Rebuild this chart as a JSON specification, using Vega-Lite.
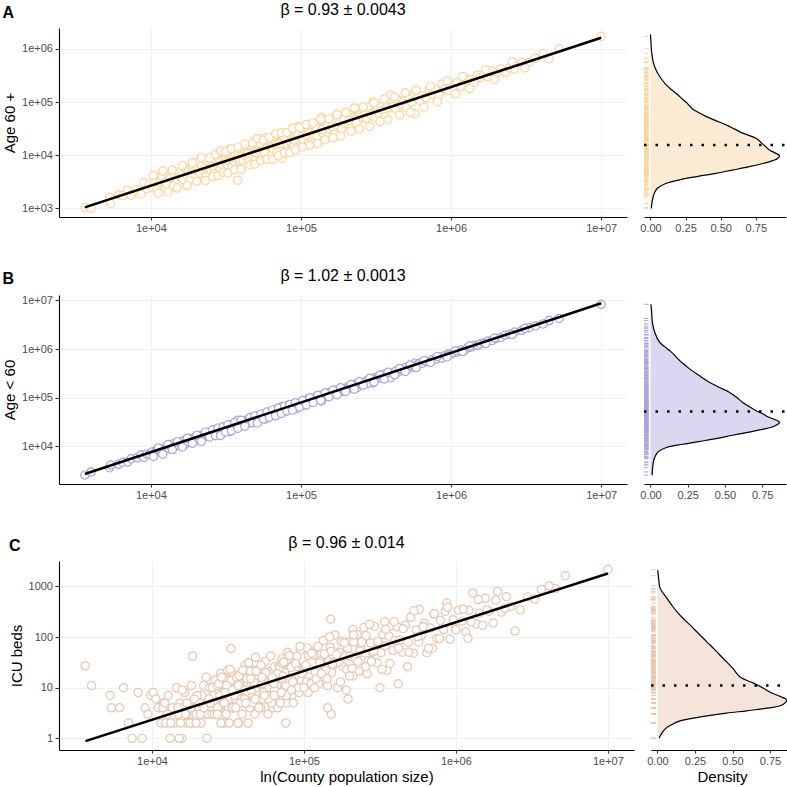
{
"$schema":"https://vega.github.io/schema/vega-lite/v6.json",
"padding":{"left":2,"top":2,"right":0,"bottom":0},
"config":{"font":"Liberation Sans","view":{"stroke":null},
"axis":{"domainColor":"#000","domainWidth":1.1,"tickColor":"#333","tickWidth":1.1,"tickSize":4,"labelColor":"#4D4D4D","labelFontSize":11,"labelFont":"Liberation Sans","titleFont":"Liberation Sans","titleFontSize":15,"titleFontWeight":"normal","titleColor":"#000","gridColor":"#EDEDED","gridWidth":0.8,"labelPadding":2.5,"titlePadding":4},
"axisX":{"titlePadding":3},
"title":{"fontSize":16,"fontWeight":"normal","font":"Liberation Sans","color":"#000","offset":10}},
"datasets":{
"ab":[
{"pop":3630,"old":1045,"young":2585},{"pop":4000,"old":1000,"young":3000},{"pop":5300,"old":1630,"young":3670},{"pop":5400,"old":1240,"young":4160},{"pop":6100,"old":1790,"young":4310},{"pop":6500,"old":1750,"young":4750},{"pop":7000,"old":2210,"young":4790},{"pop":7400,"old":1780,"young":5620},{"pop":8100,"old":2250,"young":5850},{"pop":8600,"old":1860,"young":6740},{"pop":9000,"old":3040,"young":5960},{"pop":9400,"old":2350,"young":7050},{"pop":9800,"old":2840,"young":6960},
{"pop":10200,"old":2450,"young":7750},{"pop":10600,"old":3160,"young":7440},{"pop":11000,"old":2270,"young":8730},{"pop":11500,"old":3040,"young":8460},{"pop":11900,"old":4080,"young":7820},{"pop":12300,"old":3070,"young":9230},{"pop":12800,"old":2860,"young":9940},{"pop":13200,"old":4080,"young":9120},{"pop":13600,"old":3710,"young":9890},{"pop":14100,"old":2650,"young":11450},{"pop":14500,"old":4150,"young":10350},{"pop":14900,"old":3560,"young":11340},{"pop":15300,"old":4830,"young":10470},{"pop":15700,"old":3970,"young":11730},
{"pop":16000,"old":4330,"young":11670},{"pop":16400,"old":3460,"young":12940},{"pop":16900,"old":5860,"young":11040},{"pop":17300,"old":4160,"young":13140},{"pop":17700,"old":5080,"young":12620},{"pop":18200,"old":3530,"young":14670},{"pop":18600,"old":4740,"young":13860},{"pop":19100,"old":5840,"young":13260},{"pop":19500,"old":4360,"young":15140},{"pop":20000,"old":5490,"young":14510},{"pop":20500,"old":5030,"young":15470},{"pop":21000,"old":7700,"young":13300},{"pop":21400,"old":4550,"young":16850},{"pop":21900,"old":6350,"young":15550},{"pop":22400,"old":5190,"young":17210},{"pop":22900,"old":5860,"young":17040},{"pop":23400,"old":4110,"young":19290},{"pop":23900,"old":7560,"young":16340},{"pop":24400,"old":5490,"young":18910},{"pop":24800,"old":6820,"young":17980},{"pop":25000,"old":5000,"young":20000},
{"pop":25500,"old":6360,"young":19140},{"pop":26000,"old":8420,"young":17580},{"pop":26600,"old":5700,"young":20900},{"pop":27200,"old":7560,"young":19640},{"pop":27700,"old":6530,"young":21170},{"pop":28300,"old":8410,"young":19890},{"pop":28900,"old":5570,"young":23330},{"pop":29400,"old":7620,"young":21780},{"pop":30000,"old":6660,"young":23340},{"pop":30600,"old":11290,"young":19310},{"pop":31200,"old":7510,"young":23690},{"pop":31800,"old":8960,"young":22840},{"pop":32300,"old":6570,"young":25730},{"pop":32900,"old":8690,"young":24210},{"pop":33500,"old":7600,"young":25900},{"pop":34100,"old":10380,"young":23720},{"pop":34700,"old":6240,"young":28460},{"pop":35300,"old":8750,"young":26550},{"pop":35900,"old":7660,"young":28240},{"pop":36500,"old":10420,"young":26080},{"pop":37100,"old":8620,"young":28480},{"pop":37800,"old":3380,"young":34420},{"pop":38300,"old":10170,"young":28130},{"pop":38900,"old":7970,"young":30930},{"pop":39400,"old":12820,"young":26580},{"pop":26300,"old":4450,"young":21850},{"pop":33200,"old":12960,"young":20240},
{"pop":40200,"old":9690,"young":30510},{"pop":41000,"old":8090,"young":32910},{"pop":41900,"old":12280,"young":29620},{"pop":42700,"old":9740,"young":32960},{"pop":43600,"old":11500,"young":32100},{"pop":44500,"old":8100,"young":36400},{"pop":45300,"old":11270,"young":34030},{"pop":46200,"old":15460,"young":30740},{"pop":47100,"old":10120,"young":36980},{"pop":48000,"old":13170,"young":34830},{"pop":48900,"old":11420,"young":37480},{"pop":49800,"old":8300,"young":41500},{"pop":50700,"old":15430,"young":35270},{"pop":51700,"old":10680,"young":41020},{"pop":52600,"old":13230,"young":39370},{"pop":53600,"old":11810,"young":41790},{"pop":54600,"old":15510,"young":39090},{"pop":55600,"old":10520,"young":45080},{"pop":56600,"old":13500,"young":43100},{"pop":57700,"old":21110,"young":36590},{"pop":58700,"old":12310,"young":46390},{"pop":59800,"old":15910,"young":43890},{"pop":60900,"old":13750,"young":47150},{"pop":62000,"old":10780,"young":51220},{"pop":62800,"old":18280,"young":44520},{"pop":44000,"old":10750,"young":33250},{"pop":50200,"old":11220,"young":38980},{"pop":53100,"old":16740,"young":36360},{"pop":57200,"old":11340,"young":45860},
{"pop":64000,"old":14930,"young":49070},{"pop":65500,"old":13120,"young":52380},{"pop":67000,"old":18380,"young":48620},{"pop":68500,"old":15110,"young":53390},{"pop":70000,"old":21090,"young":48910},{"pop":71500,"old":13080,"young":58420},{"pop":73000,"old":18050,"young":54950},{"pop":74700,"old":8790,"young":65910},{"pop":76300,"old":19690,"young":56610},{"pop":78000,"old":16330,"young":61670},{"pop":79700,"old":26550,"young":53150},{"pop":81400,"old":15680,"young":65720},{"pop":83200,"old":19620,"young":63580},{"pop":85000,"old":18080,"young":66920},{"pop":86900,"old":23810,"young":63090},{"pop":88800,"old":15390,"young":73410},{"pop":90700,"old":22710,"young":67990},{"pop":92700,"old":20440,"young":72260},{"pop":94700,"old":34380,"young":60320},{"pop":96800,"old":19300,"young":77500},{"pop":98900,"old":23490,"young":75410},{"pop":66200,"old":22800,"young":43400},{"pop":69300,"old":11250,"young":58050},{"pop":72300,"old":16560,"young":55740},{"pop":77200,"old":22210,"young":54990},{"pop":82300,"old":11880,"young":70420},{"pop":89700,"old":19410,"young":70290},{"pop":95800,"old":24760,"young":71040},
{"pop":101000,"old":22800,"young":78200},{"pop":104000,"old":19200,"young":84800},{"pop":107000,"old":29310,"young":77690},{"pop":110000,"old":23160,"young":86840},{"pop":113000,"old":27780,"young":85220},{"pop":116000,"old":18620,"young":97380},{"pop":119000,"old":36010,"young":82990},{"pop":122000,"old":24380,"young":97620},{"pop":125000,"old":29070,"young":95930},{"pop":128000,"old":22630,"young":105370},{"pop":131000,"old":33510,"young":97490},{"pop":134000,"old":28890,"young":105110},{"pop":137000,"old":51150,"young":85850},{"pop":140000,"old":26390,"young":113610},{"pop":143000,"old":33790,"young":109210},{"pop":146000,"old":29670,"young":116330},{"pop":149000,"old":41620,"young":107380},{"pop":152000,"old":25160,"young":126840},{"pop":155000,"old":34390,"young":120610},{"pop":157000,"old":30360,"young":126640},{"pop":105500,"old":34390,"young":71110},{"pop":111500,"old":16470,"young":95030},{"pop":126500,"old":33580,"young":92920},{"pop":138500,"old":30390,"young":108110},{"pop":150500,"old":36750,"young":113750},
{"pop":161000,"old":35110,"young":125890},{"pop":166000,"old":30690,"young":135310},{"pop":171000,"old":44530,"young":126470},{"pop":176000,"old":35420,"young":140580},{"pop":181000,"old":42970,"young":138030},{"pop":186000,"old":30030,"young":155970},{"pop":191000,"old":55390,"young":135610},{"pop":196000,"old":39900,"young":156100},{"pop":201000,"old":44690,"young":156310},{"pop":207000,"old":38860,"young":168140},{"pop":213000,"old":56210,"young":156790},{"pop":218000,"old":37040,"young":180960},{"pop":224000,"old":50790,"young":173210},{"pop":230000,"old":47160,"young":182840},{"pop":236000,"old":74690,"young":161310},{"pop":242000,"old":46130,"young":195870},{"pop":248000,"old":59190,"young":188810},{"pop":168500,"old":24890,"young":143610},{"pop":193500,"old":48150,"young":145350},{"pop":210000,"old":44730,"young":165270},{"pop":233000,"old":40350,"young":192650},
{"pop":256000,"old":53970,"young":202030},{"pop":265000,"old":69660,"young":195340},{"pop":274000,"old":49410,"young":224590},{"pop":283000,"old":65120,"young":217880},{"pop":292000,"old":57280,"young":234720},{"pop":302000,"old":100600,"young":201400},{"pop":311000,"old":51650,"young":259350},{"pop":321000,"old":69800,"young":251200},{"pop":331000,"old":61550,"young":269450},{"pop":342000,"old":83170,"young":258830},{"pop":352000,"old":70200,"young":281800},{"pop":363000,"old":53600,"young":309400},{"pop":374000,"old":85700,"young":288300},{"pop":386000,"old":78000,"young":308000},{"pop":396000,"old":137130,"young":258870},{"pop":278000,"old":81540,"young":196460},
{"pop":410000,"old":83480,"young":326520},{"pop":428000,"old":73820,"young":354180},{"pop":446000,"old":108220,"young":337780},{"pop":465000,"old":89010,"young":375990},{"pop":484000,"old":104960,"young":379040},{"pop":504000,"old":78660,"young":425340},{"pop":525000,"old":119340,"young":405660},{"pop":547000,"old":99990,"young":447010},{"pop":570000,"old":146720,"young":423280},{"pop":575000,"old":60310,"young":514690},{"pop":595000,"old":119740,"young":475260},{"pop":620000,"old":107270,"young":512730},
{"pop":645000,"old":133350,"young":511650},{"pop":680000,"old":119950,"young":560050},{"pop":715000,"old":170190,"young":544810},{"pop":750000,"old":139900,"young":610100},{"pop":790000,"old":168070,"young":621930},{"pop":830000,"old":134280,"young":695720},{"pop":870000,"old":217040,"young":652960},{"pop":915000,"old":174950,"young":740050},{"pop":960000,"old":164590,"young":795410},{"pop":990000,"old":217450,"young":772550},
{"pop":1040000,"old":197910,"young":842090},{"pop":1100000,"old":233460,"young":866540},{"pop":1160000,"old":197000,"young":963000},{"pop":1220000,"old":286700,"young":933300},{"pop":1290000,"old":229540,"young":1060460},{"pop":1360000,"old":266470,"young":1093530},{"pop":1430000,"old":233810,"young":1196190},{"pop":1500000,"old":319470,"young":1180530},{"pop":1560000,"old":288130,"young":1271870},
{"pop":1650000,"old":318780,"young":1331220},{"pop":1760000,"old":299700,"young":1460300},{"pop":1880000,"old":376790,"young":1503210},{"pop":2000000,"old":351720,"young":1648280},{"pop":2150000,"old":418660,"young":1731340},{"pop":2300000,"old":358980,"young":1941020},{"pop":2450000,"old":437820,"young":2012180},
{"pop":2650000,"old":414400,"young":2235600},{"pop":2950000,"old":551290,"young":2398710},{"pop":3300000,"old":559540,"young":2740460},{"pop":3650000,"old":664940,"young":2985060},{"pop":4500000,"old":650000,"young":3850000},{"pop":4100000,"old":815000,"young":3285000},{"pop":5250000,"old":1000000,"young":4250000},{"pop":10000000,"old":1700000,"young":8300000},
{"pop":10400,"old":4150,"young":6250},{"pop":11200,"old":1930,"young":9270},{"pop":12000,"old":5070,"young":6930},{"pop":13000,"old":2050,"young":10950},{"pop":13900,"old":5280,"young":8620},{"pop":15000,"old":2420,"young":12580},{"pop":16200,"old":6450,"young":9750},{"pop":17500,"old":2690,"young":14810},{"pop":18900,"old":7230,"young":11670},{"pop":20200,"old":3230,"young":16970},{"pop":21700,"old":9020,"young":12680},{"pop":23100,"old":3360,"young":19740},{"pop":24600,"old":8920,"young":15680},{"pop":25800,"old":3980,"young":21820},{"pop":27000,"old":10380,"young":16620},{"pop":28000,"old":4160,"young":23840},{"pop":29100,"old":12220,"young":16880},{"pop":30300,"old":4780,"young":25520},{"pop":31500,"old":11600,"young":19900},{"pop":32600,"old":4630,"young":27970},
{"pop":34400,"old":13390,"young":21010},{"pop":36200,"old":5340,"young":30860},{"pop":38000,"old":14220,"young":23780},{"pop":39900,"old":5480,"young":34420},{"pop":42300,"old":16240,"young":26060},{"pop":45800,"old":6570,"young":39230},{"pop":47600,"old":17030,"young":30570},{"pop":49300,"old":6810,"young":42490},{"pop":51200,"old":20680,"young":30520},{"pop":54100,"old":7940,"young":46160},{"pop":56100,"old":19220,"young":36880},{"pop":59300,"old":8380,"young":50920},{"pop":61500,"old":21680,"young":39820},{"pop":64800,"old":8310,"young":56490},{"pop":67800,"old":25200,"young":42600},{"pop":70800,"old":9840,"young":60960},{"pop":74000,"old":26480,"young":47520},{"pop":77700,"old":11090,"young":66610},{"pop":80500,"old":26790,"young":53710},{"pop":84100,"old":11160,"young":72940},
{"pop":87800,"old":32060,"young":55740},{"pop":91700,"old":12520,"young":79180},{"pop":97900,"old":33250,"young":64650},{"pop":102500,"old":14320,"young":88180},{"pop":108500,"old":37720,"young":70780},{"pop":114500,"old":15330,"young":99170},{"pop":120500,"old":40180,"young":80320},{"pop":129500,"old":16580,"young":112920},{"pop":135500,"old":47650,"young":87850},{"pop":144500,"old":19590,"young":124910},{"pop":153500,"old":48460,"young":105040},{"pop":163500,"old":21380,"young":142120},{"pop":173500,"old":58280,"young":115220},{"pop":183500,"old":22950,"young":160550},{"pop":198500,"old":63720,"young":134780},{"pop":215500,"old":28400,"young":187100},{"pop":227000,"old":76890,"young":150110},{"pop":245000,"old":31060,"young":213940},{"pop":260000,"old":79360,"young":180640},{"pop":287000,"old":34790,"young":252210},
{"pop":307000,"old":95740,"young":211260},{"pop":336000,"old":43000,"young":293000},{"pop":358000,"old":113980,"young":244020},{"pop":380000,"old":46600,"young":333400},{"pop":420000,"old":123750,"young":296250},{"pop":455000,"old":56960,"young":398040},{"pop":495000,"old":148800,"young":346200},{"pop":535000,"old":63910,"young":471090},{"pop":585000,"old":167610,"young":417390},{"pop":660000,"old":80410,"young":579590},{"pop":730000,"old":198980,"young":531020},{"pop":810000,"old":101610,"young":708390},{"pop":940000,"old":251090,"young":688910},{"pop":1070000,"old":142240,"young":927760},{"pop":1190000,"old":302500,"young":887500},{"pop":1330000,"old":178980,"young":1151020},{"pop":1700000,"old":405540,"young":1294460},{"pop":1950000,"old":265730,"young":1684270},{"pop":2550000,"old":568010,"young":1981990},{"pop":3100000,"old":435240,"young":2664760}
],
"icu":[
{"pop":3630,"icu":27},{"pop":4000,"icu":11},{"pop":5300,"icu":7},{"pop":5400,"icu":4},{"pop":6100,"icu":4},{"pop":6500,"icu":10},{"pop":7000,"icu":2},{"pop":7400,"icu":1},{"pop":8100,"icu":8},{"pop":8600,"icu":1},{"pop":9000,"icu":4},{"pop":9400,"icu":3},{"pop":9800,"icu":7},
{"pop":10200,"icu":8},{"pop":10600,"icu":6},{"pop":11000,"icu":4},{"pop":11500,"icu":2},{"pop":11900,"icu":5},{"pop":12300,"icu":2},{"pop":12800,"icu":7},{"pop":13200,"icu":1},{"pop":13600,"icu":4},{"pop":14100,"icu":2},{"pop":14500,"icu":10},{"pop":14900,"icu":3},{"pop":15300,"icu":5},{"pop":15700,"icu":1},
{"pop":16000,"icu":4},{"pop":16400,"icu":8},{"pop":16900,"icu":2},{"pop":17300,"icu":5},{"pop":17700,"icu":3},{"pop":18200,"icu":11},{"pop":18600,"icu":2},{"pop":19100,"icu":5},{"pop":19500,"icu":3},{"pop":20000,"icu":7},{"pop":20500,"icu":4},{"pop":21000,"icu":2},{"pop":21400,"icu":7},{"pop":21900,"icu":11},{"pop":22400,"icu":3},{"pop":22900,"icu":5},{"pop":23400,"icu":3},{"pop":23900,"icu":10},{"pop":24400,"icu":6},{"pop":24800,"icu":3},{"pop":25000,"icu":10},
{"pop":25500,"icu":5},{"pop":26000,"icu":14},{"pop":26600,"icu":3},{"pop":27200,"icu":8},{"pop":27700,"icu":4},{"pop":28300,"icu":19},{"pop":28900,"icu":6},{"pop":29400,"icu":10},{"pop":30000,"icu":2},{"pop":30600,"icu":8},{"pop":31200,"icu":14},{"pop":31800,"icu":4},{"pop":32300,"icu":10},{"pop":32900,"icu":6},{"pop":33500,"icu":20},{"pop":34100,"icu":4},{"pop":34700,"icu":9},{"pop":35300,"icu":6},{"pop":35900,"icu":13},{"pop":36500,"icu":8},{"pop":37100,"icu":2},{"pop":37800,"icu":12},{"pop":38300,"icu":19},{"pop":38900,"icu":6},{"pop":39400,"icu":9},{"pop":26300,"icu":3},{"pop":33200,"icu":14},
{"pop":40200,"icu":9},{"pop":41000,"icu":5},{"pop":41900,"icu":17},{"pop":42700,"icu":8},{"pop":43600,"icu":23},{"pop":44500,"icu":4},{"pop":45300,"icu":12},{"pop":46200,"icu":7},{"pop":47100,"icu":31},{"pop":48000,"icu":9},{"pop":48900,"icu":16},{"pop":49800,"icu":4},{"pop":50700,"icu":12},{"pop":51700,"icu":23},{"pop":52600,"icu":7},{"pop":53600,"icu":16},{"pop":54600,"icu":10},{"pop":55600,"icu":33},{"pop":56600,"icu":6},{"pop":57700,"icu":14},{"pop":58700,"icu":10},{"pop":59800,"icu":21},{"pop":60900,"icu":13},{"pop":62000,"icu":4},{"pop":62800,"icu":19},{"pop":44000,"icu":21},{"pop":50200,"icu":7},{"pop":53100,"icu":12},{"pop":57200,"icu":7},
{"pop":64000,"icu":26},{"pop":65500,"icu":14},{"pop":67000,"icu":8},{"pop":68500,"icu":27},{"pop":70000,"icu":12},{"pop":71500,"icu":37},{"pop":73000,"icu":7},{"pop":74700,"icu":20},{"pop":76300,"icu":11},{"pop":78000,"icu":50},{"pop":79700,"icu":15},{"pop":81400,"icu":26},{"pop":83200,"icu":7},{"pop":85000,"icu":20},{"pop":86900,"icu":37},{"pop":88800,"icu":12},{"pop":90700,"icu":26},{"pop":92700,"icu":17},{"pop":94700,"icu":55},{"pop":96800,"icu":10},{"pop":98900,"icu":24},{"pop":66200,"icu":11},{"pop":69300,"icu":25},{"pop":72300,"icu":15},{"pop":77200,"icu":5},{"pop":82300,"icu":25},{"pop":89700,"icu":42},{"pop":95800,"icu":14},
{"pop":101000,"icu":23},{"pop":104000,"icu":13},{"pop":107000,"icu":43},{"pop":110000,"icu":23},{"pop":113000,"icu":13},{"pop":116000,"icu":44},{"pop":119000,"icu":20},{"pop":122000,"icu":62},{"pop":125000,"icu":12},{"pop":128000,"icu":34},{"pop":131000,"icu":19},{"pop":134000,"icu":85},{"pop":137000,"icu":26},{"pop":140000,"icu":44},{"pop":143000,"icu":11},{"pop":146000,"icu":34},{"pop":149000,"icu":63},{"pop":152000,"icu":20},{"pop":155000,"icu":44},{"pop":157000,"icu":28},{"pop":105500,"icu":61},{"pop":111500,"icu":12},{"pop":126500,"icu":31},{"pop":138500,"icu":22},{"pop":150500,"icu":52},
{"pop":161000,"icu":32},{"pop":166000,"icu":10},{"pop":171000,"icu":50},{"pop":176000,"icu":81},{"pop":181000,"icu":26},{"pop":186000,"icu":41},{"pop":191000,"icu":23},{"pop":196000,"icu":78},{"pop":201000,"icu":42},{"pop":207000,"icu":24},{"pop":213000,"icu":80},{"pop":218000,"icu":36},{"pop":224000,"icu":112},{"pop":230000,"icu":21},{"pop":236000,"icu":61},{"pop":242000,"icu":35},{"pop":248000,"icu":154},{"pop":168500,"icu":32},{"pop":193500,"icu":60},{"pop":210000,"icu":17},{"pop":233000,"icu":53},
{"pop":256000,"icu":106},{"pop":265000,"icu":34},{"pop":274000,"icu":76},{"pop":283000,"icu":50},{"pop":292000,"icu":162},{"pop":302000,"icu":31},{"pop":311000,"icu":73},{"pop":321000,"icu":49},{"pop":331000,"icu":112},{"pop":342000,"icu":67},{"pop":352000,"icu":22},{"pop":363000,"icu":104},{"pop":374000,"icu":168},{"pop":386000,"icu":54},{"pop":396000,"icu":85},{"pop":278000,"icu":33},
{"pop":410000,"icu":159},{"pop":428000,"icu":87},{"pop":446000,"icu":50},{"pop":465000,"icu":170},{"pop":484000,"icu":78},{"pop":504000,"icu":245},{"pop":525000,"icu":48},{"pop":547000,"icu":138},{"pop":570000,"icu":80},{"pop":575000,"icu":348},{"pop":595000,"icu":108},{"pop":620000,"icu":187},
{"pop":645000,"icu":49},{"pop":680000,"icu":150},{"pop":715000,"icu":286},{"pop":750000,"icu":93},{"pop":790000,"icu":213},{"pop":830000,"icu":140},{"pop":870000,"icu":467},{"pop":915000,"icu":91},{"pop":960000,"icu":219},{"pop":990000,"icu":147},
{"pop":1040000,"icu":339},{"pop":1100000,"icu":206},{"pop":1160000,"icu":126},{"pop":1220000,"icu":336},{"pop":1290000,"icu":740},{"pop":1360000,"icu":181},{"pop":1430000,"icu":294},{"pop":1500000,"icu":170},{"pop":1560000,"icu":580},
{"pop":1650000,"icu":322},{"pop":1760000,"icu":189},{"pop":1880000,"icu":795},{"pop":2000000,"icu":310},{"pop":2150000,"icu":624},{"pop":2300000,"icu":400},{"pop":2450000,"icu":131},
{"pop":2650000,"icu":343},{"pop":2950000,"icu":620},{"pop":3300000,"icu":560},{"pop":3650000,"icu":870},{"pop":4500000,"icu":900},{"pop":4100000,"icu":1020},{"pop":5250000,"icu":1620},{"pop":10000000,"icu":2150},
{"pop":13300,"icu":2},{"pop":15400,"icu":2},{"pop":17800,"icu":2},{"pop":19500,"icu":2},{"pop":28400,"icu":2},{"pop":32200,"icu":2},{"pop":36800,"icu":2},{"pop":42900,"icu":2},{"pop":76000,"icu":2},
{"pop":12600,"icu":3},{"pop":16800,"icu":3},{"pop":20800,"icu":3},{"pop":25800,"icu":3},{"pop":30800,"icu":3},{"pop":39200,"icu":3},{"pop":47500,"icu":3},{"pop":58000,"icu":3},{"pop":151000,"icu":3},
{"pop":11800,"icu":4},{"pop":14800,"icu":4},{"pop":18000,"icu":4},{"pop":22000,"icu":4},{"pop":27000,"icu":4},{"pop":34000,"icu":4},{"pop":44000,"icu":4},{"pop":52000,"icu":4},{"pop":67000,"icu":4},{"pop":143000,"icu":4},
{"pop":12100,"icu":5},{"pop":17000,"icu":5},{"pop":24000,"icu":5},{"pop":29700,"icu":5},{"pop":38000,"icu":5},{"pop":46000,"icu":5},{"pop":61000,"icu":5},{"pop":85000,"icu":5},
{"pop":195000,"icu":6},{"pop":190000,"icu":9},{"pop":316000,"icu":10},{"pop":417000,"icu":12},{"pop":18500,"icu":42},{"pop":33100,"icu":59},{"pop":23000,"icu":1},{"pop":15100,"icu":1},
{"pop":150000,"icu":224},{"pop":41000,"icu":28},{"pop":55000,"icu":18},{"pop":64000,"icu":9},{"pop":72000,"icu":30},{"pop":93000,"icu":8},{"pop":120000,"icu":15},{"pop":160000,"icu":110},{"pop":210000,"icu":140},{"pop":260000,"icu":19},{"pop":340000,"icu":200},{"pop":480000,"icu":26},{"pop":700000,"icu":60},{"pop":850000,"icu":320},{"pop":1200000,"icu":95},{"pop":29000,"icu":8},{"pop":36000,"icu":16},{"pop":48000,"icu":40},{"pop":26800,"icu":11},{"pop":31500,"icu":22},{"pop":53500,"icu":6},
{"pop":15800,"icu":9},{"pop":16600,"icu":3},{"pop":19800,"icu":7},{"pop":22700,"icu":16},{"pop":24200,"icu":5},{"pop":25300,"icu":7},{"pop":27500,"icu":12},{"pop":28700,"icu":16},{"pop":29900,"icu":5},{"pop":31000,"icu":11},{"pop":32700,"icu":23},{"pop":34900,"icu":7},{"pop":36200,"icu":10},{"pop":37400,"icu":17},{"pop":39600,"icu":22},{"pop":40700,"icu":6},{"pop":42100,"icu":15},{"pop":43300,"icu":31},{"pop":45000,"icu":9},{"pop":46700,"icu":13},
{"pop":48500,"icu":21},{"pop":50500,"icu":4},{"pop":52200,"icu":28},{"pop":54200,"icu":8},{"pop":56000,"icu":20},{"pop":58300,"icu":6},{"pop":60400,"icu":42},{"pop":63300,"icu":12},{"pop":66700,"icu":19},{"pop":69800,"icu":5},{"pop":73600,"icu":32},{"pop":76900,"icu":7},{"pop":80100,"icu":43},{"pop":84500,"icu":13},{"pop":88100,"icu":30},{"pop":91300,"icu":10},{"pop":94200,"icu":65},{"pop":97400,"icu":19},{"pop":103000,"icu":28},{"pop":106500,"icu":8},
{"pop":112500,"icu":48},{"pop":117500,"icu":10},{"pop":123500,"icu":65},{"pop":130000,"icu":19},{"pop":136000,"icu":46},{"pop":142000,"icu":15},{"pop":148000,"icu":100},{"pop":154000,"icu":29},{"pop":164000,"icu":45},{"pop":174000,"icu":13},{"pop":184000,"icu":77},{"pop":199000,"icu":17},{"pop":212000,"icu":110},{"pop":226000,"icu":33},{"pop":240000,"icu":80},{"pop":254000,"icu":26},{"pop":270000,"icu":178},{"pop":288000,"icu":53},{"pop":306000,"icu":82},{"pop":326000,"icu":23},
{"pop":346000,"icu":142},{"pop":368000,"icu":30},{"pop":392000,"icu":200},{"pop":420000,"icu":60},{"pop":450000,"icu":146},{"pop":490000,"icu":50},{"pop":530000,"icu":330},{"pop":560000,"icu":102},{"pop":610000,"icu":160},{"pop":660000,"icu":60},{"pop":720000,"icu":288},{"pop":780000,"icu":93},{"pop":880000,"icu":385},{"pop":1000000,"icu":139},{"pop":1120000,"icu":354},{"pop":1260000,"icu":198},{"pop":1400000,"icu":548},{"pop":1600000,"icu":343},{"pop":1830000,"icu":534},{"pop":2100000,"icu":365},
{"pop":20700,"icu":5},{"pop":26900,"icu":3},{"pop":35600,"icu":4},{"pop":41400,"icu":5},{"pop":47800,"icu":6},{"pop":55100,"icu":7},{"pop":63800,"icu":7},{"pop":71000,"icu":8},{"pop":82800,"icu":9},{"pop":99800,"icu":10},{"pop":19000,"icu":6},{"pop":23700,"icu":6},{"pop":27900,"icu":7},{"pop":30300,"icu":8},{"pop":33800,"icu":9},{"pop":37000,"icu":11},{"pop":44700,"icu":15},{"pop":52900,"icu":16},{"pop":61700,"icu":16},{"pop":72700,"icu":17}
],
"fitA":[{"pop":3630,"fit":1047},{"pop":10000000,"fit":1613000}],
"fitB":[{"pop":3630,"fit":2730},{"pop":10000000,"fit":8700000}],
"fitC":[{"pop":3650,"fit":0.883},{"pop":10000000,"fit":1790}],
"med":[{"panel":"A","m":15600},{"panel":"B","m":52500},{"panel":"C","m":11}],
"denA":[{"v":1862000,"d":0.0},{"v":1259000,"d":0.004},{"v":832000,"d":0.009},{"v":562000,"d":0.02},{"v":407000,"d":0.038},{"v":295000,"d":0.068},{"v":214000,"d":0.109},{"v":170000,"d":0.15},{"v":138000,"d":0.192},{"v":114800,"d":0.225},{"v":97700,"d":0.256},{"v":74100,"d":0.3},{"v":63100,"d":0.345},{"v":53700,"d":0.395},{"v":44700,"d":0.465},{"v":37200,"d":0.538},{"v":30900,"d":0.6},{"v":26000,"d":0.656},{"v":20900,"d":0.752},{"v":16200,"d":0.8},{"v":12600,"d":0.847},{"v":10960,"d":0.89},{"v":9770,"d":0.919},{"v":8710,"d":0.905},{"v":7940,"d":0.871},{"v":7000,"d":0.8},{"v":6100,"d":0.704},{"v":5250,"d":0.58},{"v":4570,"d":0.466},{"v":3980,"d":0.33},{"v":3550,"d":0.228},{"v":2950,"d":0.109},{"v":2400,"d":0.049},{"v":2000,"d":0.03},{"v":1660,"d":0.019},{"v":1260,"d":0.01},{"v":1000,"d":0.006}],
"denB":[{"v":8320000,"d":0.003},{"v":5620000,"d":0.008},{"v":3516000,"d":0.013},{"v":2188000,"d":0.029},{"v":1371000,"d":0.062},{"v":1122000,"d":0.095},{"v":927000,"d":0.129},{"v":759000,"d":0.16},{"v":631000,"d":0.184},{"v":501000,"d":0.22},{"v":392000,"d":0.262},{"v":282000,"d":0.33},{"v":209000,"d":0.395},{"v":162000,"d":0.465},{"v":130300,"d":0.529},{"v":102300,"d":0.578},{"v":81300,"d":0.617},{"v":66100,"d":0.662},{"v":55000,"d":0.707},{"v":45700,"d":0.76},{"v":39800,"d":0.795},{"v":35500,"d":0.838},{"v":31600,"d":0.867},{"v":28200,"d":0.852},{"v":25100,"d":0.818},{"v":22400,"d":0.75},{"v":19800,"d":0.662},{"v":17000,"d":0.55},{"v":14500,"d":0.44},{"v":12600,"d":0.32},{"v":11100,"d":0.217},{"v":9550,"d":0.107},{"v":7760,"d":0.051},{"v":6310,"d":0.032},{"v":5250,"d":0.022},{"v":3550,"d":0.014},{"v":2570,"d":0.011}],
"denC":[{"v":2089,"d":0.002},{"v":1259,"d":0.01},{"v":933,"d":0.017},{"v":589,"d":0.062},{"v":427,"d":0.095},{"v":316,"d":0.129},{"v":234,"d":0.17},{"v":173,"d":0.217},{"v":117.5,"d":0.273},{"v":80.4,"d":0.329},{"v":55,"d":0.385},{"v":37.2,"d":0.44},{"v":24.5,"d":0.5},{"v":16.2,"d":0.551},{"v":12.3,"d":0.64},{"v":10,"d":0.7},{"v":8.13,"d":0.751},{"v":6.76,"d":0.815},{"v":5.71,"d":0.862},{"v":5.01,"d":0.85},{"v":4.4,"d":0.818},{"v":3.89,"d":0.72},{"v":3.5,"d":0.595},{"v":3.16,"d":0.46},{"v":2.78,"d":0.329},{"v":2.51,"d":0.24},{"v":2.21,"d":0.151},{"v":1.905,"d":0.1},{"v":1.63,"d":0.062},{"v":1.38,"d":0.038},{"v":1.2,"d":0.024},{"v":1.0,"d":0.011}]
},
"spacing":34,
"vconcat":[
{"title":{"text":"A","anchor":"start","frame":"bounds","fontSize":16,"fontWeight":"bold","offset":-19},
"spacing":12,
"hconcat":[
{"width":568,"height":189,"title":{"text":"β = 0.93 ± 0.0043","anchor":"middle"},
"layer":[
{"data":{"name":"ab"},"mark":{"type":"point","shape":"circle","filled":true,"fill":"white","stroke":"#FCD59E","strokeWidth":1.2,"size":68,"opacity":1},
"encoding":{"x":{"field":"pop","type":"quantitative","scale":{"type":"log","domain":[2443,14860000],"nice":false},"axis":{"values":[10000,100000,1000000,10000000],"labelExpr":"'1e+0' + round(log(datum.value)/LN10)","title":null,"grid":true,"tickSize":3}},
"y":{"field":"old","type":"quantitative","scale":{"type":"log","domain":[692,2455000],"nice":false},"axis":{"values":[1000,10000,100000,1000000],"labelExpr":"'1e+0' + round(log(datum.value)/LN10)","title":"Age 60 +","grid":true}}}},
{"data":{"name":"fitA"},"mark":{"type":"line","color":"black","strokeWidth":2.5},"encoding":{"x":{"field":"pop","type":"quantitative"},"y":{"field":"fit","type":"quantitative"}}}
]},
{"width":142,"height":189,
"layer":[
{"data":{"name":"denA"},"mark":{"type":"area","orient":"horizontal","fill":"#FCEBD3","interpolate":"catmull-rom"},
"encoding":{"y":{"field":"v","type":"quantitative","scale":{"type":"log","domain":[692,2455000],"nice":false},"axis":null},
"x":{"field":"d","type":"quantitative","scale":{"domain":[-0.046,0.965],"nice":false,"zero":false},"axis":{"values":[0,0.25,0.5,0.75],"format":".2f","title":null,"grid":false,"tickSize":3}},"x2":{"datum":0}}},
{"data":{"name":"ab"},"mark":{"type":"rule","color":"#FCD59E","strokeWidth":1},"encoding":{"y":{"field":"old","type":"quantitative"},"x":{"datum":-0.046},"x2":{"datum":-0.014}}},
{"data":{"name":"denA"},"mark":{"type":"line","color":"black","strokeWidth":1.2,"interpolate":"catmull-rom"},"encoding":{"y":{"field":"v","type":"quantitative"},"x":{"field":"d","type":"quantitative"},"order":{"field":"v","type":"quantitative"}}},
{"data":{"name":"med"},"transform":[{"filter":"datum.panel == 'A'"}],"mark":{"type":"rule","color":"black","strokeWidth":2.5,"strokeDash":[2.5,9]},"encoding":{"y":{"field":"m","type":"quantitative"},"x":{"datum":-0.046},"x2":{"datum":0.965}}}
]}
]},
{"title":{"text":"B","anchor":"start","frame":"bounds","fontSize":16,"fontWeight":"bold","offset":-19},
"spacing":12,
"hconcat":[
{"width":568,"height":189,"title":{"text":"β = 1.02 ± 0.0013","anchor":"middle"},
"layer":[
{"data":{"name":"ab"},"mark":{"type":"point","shape":"circle","filled":true,"fill":"white","stroke":"#ABA5DE","strokeWidth":1.2,"size":68,"opacity":1},
"encoding":{"x":{"field":"pop","type":"quantitative","scale":{"type":"log","domain":[2443,14860000],"nice":false},"axis":{"values":[10000,100000,1000000,10000000],"labelExpr":"'1e+0' + round(log(datum.value)/LN10)","title":null,"grid":true,"tickSize":3}},
"y":{"field":"young","type":"quantitative","scale":{"type":"log","domain":[1698,12880000],"nice":false},"axis":{"values":[10000,100000,1000000,10000000],"labelExpr":"'1e+0' + round(log(datum.value)/LN10)","title":"Age < 60","grid":true}}}},
{"data":{"name":"fitB"},"mark":{"type":"line","color":"black","strokeWidth":2.5},"encoding":{"x":{"field":"pop","type":"quantitative"},"y":{"field":"fit","type":"quantitative"}}}
]},
{"width":142,"height":189,
"layer":[
{"data":{"name":"denB"},"mark":{"type":"area","orient":"horizontal","fill":"#DAD7F0","interpolate":"catmull-rom"},
"encoding":{"y":{"field":"v","type":"quantitative","scale":{"type":"log","domain":[1698,12880000],"nice":false},"axis":null},
"x":{"field":"d","type":"quantitative","scale":{"domain":[-0.0435,0.91],"nice":false,"zero":false},"axis":{"values":[0,0.25,0.5,0.75],"format":".2f","title":null,"grid":false,"tickSize":3}},"x2":{"datum":0}}},
{"data":{"name":"ab"},"mark":{"type":"rule","color":"#ABA5DE","strokeWidth":1},"encoding":{"y":{"field":"young","type":"quantitative"},"x":{"datum":-0.0435},"x2":{"datum":-0.0135}}},
{"data":{"name":"denB"},"mark":{"type":"line","color":"black","strokeWidth":1.2,"interpolate":"catmull-rom"},"encoding":{"y":{"field":"v","type":"quantitative"},"x":{"field":"d","type":"quantitative"},"order":{"field":"v","type":"quantitative"}}},
{"data":{"name":"med"},"transform":[{"filter":"datum.panel == 'B'"}],"mark":{"type":"rule","color":"black","strokeWidth":2.5,"strokeDash":[2.5,9]},"encoding":{"y":{"field":"m","type":"quantitative"},"x":{"datum":-0.0435},"x2":{"datum":0.91}}}
]}
]},
{"title":{"text":"C","anchor":"start","frame":"bounds","fontSize":16,"fontWeight":"bold","offset":-19},
"spacing":12,
"hconcat":[
{"width":575,"height":189,"title":{"text":"β = 0.96 ± 0.014","anchor":"middle"},
"layer":[
{"data":{"name":"icu"},"mark":{"type":"point","shape":"circle","filled":true,"fill":"white","stroke":"#E7C7B0","strokeWidth":1.2,"size":68,"opacity":1},
"encoding":{"x":{"field":"pop","type":"quantitative","scale":{"type":"log","domain":[2443,14860000],"nice":false},"axis":{"values":[10000,100000,1000000,10000000],"labelExpr":"'1e+0' + round(log(datum.value)/LN10)","title":"ln(County population size)","grid":true,"tickSize":3}},
"y":{"field":"icu","type":"quantitative","scale":{"type":"log","domain":[0.589,3162],"nice":false},"axis":{"values":[1,10,100,1000],"format":"d","title":"ICU beds","grid":true}}}},
{"data":{"name":"fitC"},"mark":{"type":"line","color":"black","strokeWidth":2.5},"encoding":{"x":{"field":"pop","type":"quantitative"},"y":{"field":"fit","type":"quantitative"}}}
]},
{"width":142,"height":189,
"layer":[
{"data":{"name":"denC"},"mark":{"type":"area","orient":"horizontal","fill":"#F4E4DA","interpolate":"catmull-rom"},
"encoding":{"y":{"field":"v","type":"quantitative","scale":{"type":"log","domain":[0.589,3162],"nice":false},"axis":null},
"x":{"field":"d","type":"quantitative","scale":{"domain":[-0.043,0.903],"nice":false,"zero":false},"axis":{"values":[0,0.25,0.5,0.75],"format":".2f","title":"Density","grid":false,"tickSize":3}},"x2":{"datum":0}}},
{"data":{"name":"icu"},"mark":{"type":"rule","color":"#E7C7B0","strokeWidth":1},"encoding":{"y":{"field":"icu","type":"quantitative"},"x":{"datum":-0.043},"x2":{"datum":-0.013}}},
{"data":{"name":"denC"},"mark":{"type":"line","color":"black","strokeWidth":1.2,"interpolate":"catmull-rom"},"encoding":{"y":{"field":"v","type":"quantitative"},"x":{"field":"d","type":"quantitative"},"order":{"field":"v","type":"quantitative"}}},
{"data":{"name":"med"},"transform":[{"filter":"datum.panel == 'C'"}],"mark":{"type":"rule","color":"black","strokeWidth":2.5,"strokeDash":[2.5,9]},"encoding":{"y":{"field":"m","type":"quantitative"},"x":{"datum":-0.043},"x2":{"datum":0.903}}}
]}
]}
]
}
